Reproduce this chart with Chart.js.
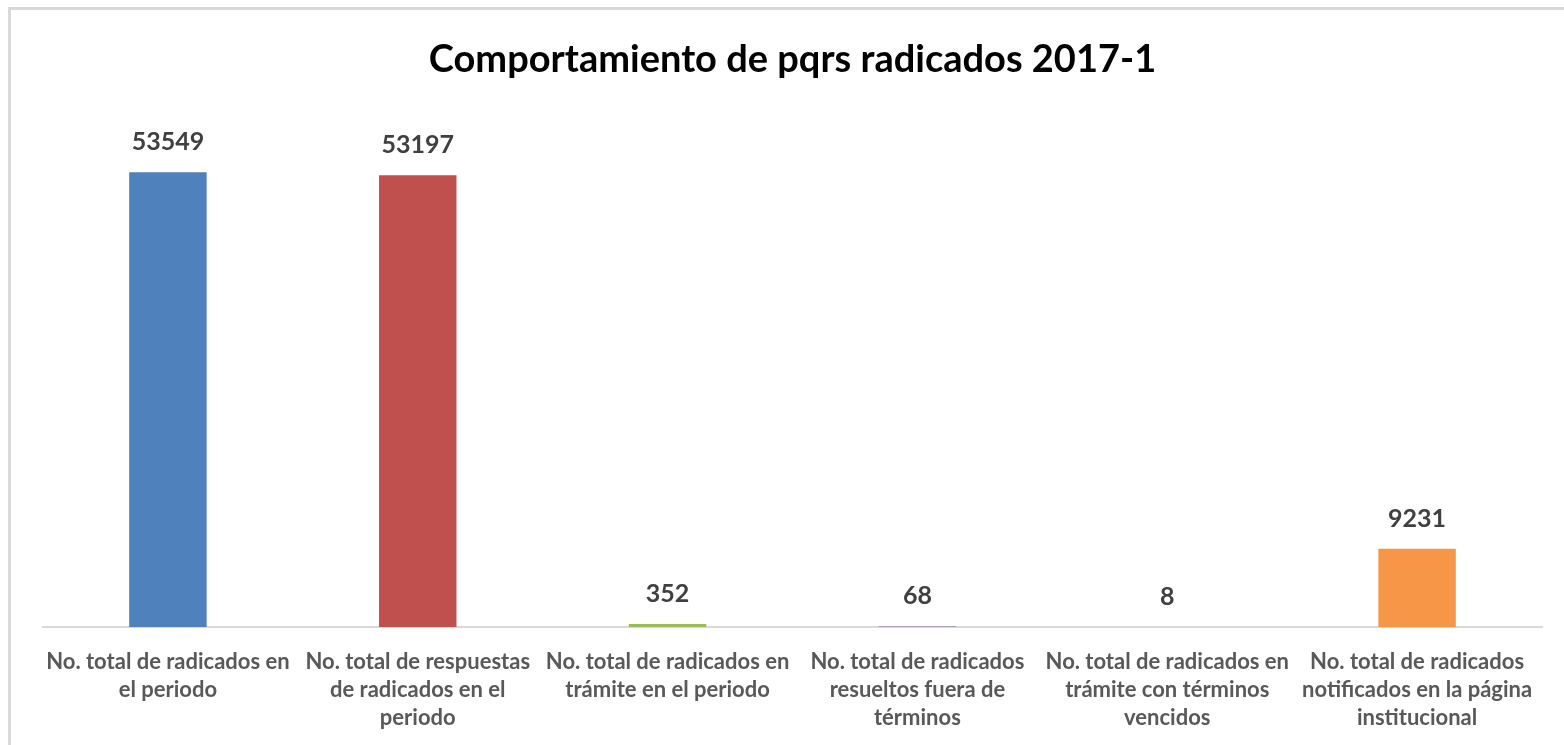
<!DOCTYPE html>
<html>
<head>
<meta charset="utf-8">
<script src="https://cdn.jsdelivr.net/npm/chart.js@4/dist/chart.umd.min.js"></script>
<style>
  html, body { margin: 0; padding: 0; background: #ffffff; }
  #wrap { position: relative; width: 1564px; height: 745px; overflow: hidden; }
  #frame { position: absolute; left: 8px; top: 7px; right: -10px; bottom: -10px;
           border-left: 3px solid #d9d9d9; border-top: 3px solid #d9d9d9; pointer-events: none; }
  canvas { position: absolute; left: 0; top: 0; }
</style>
</head>
<body>
<div id="wrap">
  <canvas id="c" width="1564" height="766"></canvas>
  <div id="frame"></div>
</div>
<script>
const chartTitle = "Comportamiento de pqrs radicados 2017-1";
const categories = [
  ["No. total de radicados en", "el periodo"],
  ["No. total de respuestas", "de radicados en el", "periodo"],
  ["No. total de radicados en", "trámite en el periodo"],
  ["No. total de radicados", "resueltos fuera de", "términos"],
  ["No. total de radicados en", "trámite con términos", "vencidos"],
  ["No. total de radicados", "notificados en la página", "institucional"]
];
const values = [53549, 53197, 352, 68, 8, 9231];
const barColors = ["#4F81BD", "#C0504D", "#9BBB59", "#8064A2", "#4BACC6", "#F79646"];
const yMax = 60000;

const valueLabels = {
  id: "valueLabels",
  afterDatasetsDraw(chart) {
    const ctx = chart.ctx;
    const meta = chart.getDatasetMeta(0);
    ctx.save();
    ctx.font = "bold 25px Lato, 'Open Sans', sans-serif";
    ctx.fillStyle = "#404040";
    ctx.textAlign = "center";
    ctx.textBaseline = "middle";
    meta.data.forEach((bar, i) => {
      ctx.fillText(String(chart.data.datasets[0].data[i]), bar.x, bar.y - 30);
    });
    ctx.restore();
  }
};

new Chart(document.getElementById("c"), {
  type: "bar",
  data: {
    labels: categories,
    datasets: [{
      data: values,
      backgroundColor: barColors,
      borderWidth: 0,
      categoryPercentage: 1.0,
      barPercentage: 0.31
    }]
  },
  options: {
    responsive: false,
    animation: false,
    devicePixelRatio: 1,
    layout: { padding: { left: 43, right: 22, top: 0, bottom: 13 } },
    plugins: {
      legend: { display: false },
      tooltip: { enabled: false },
      title: {
        display: true,
        text: chartTitle,
        color: "#000000",
        font: { family: "Lato, 'Open Sans', sans-serif", size: 38, weight: "bold", lineHeight: 1.2 },
        padding: { top: 37, bottom: 35 }
      }
    },
    scales: {
      x: {
        grid: { display: false, drawTicks: false },
        border: { display: true, color: "#d9d9d9", width: 2 },
        ticks: {
          color: "#595959",
          font: { family: "Lato, 'Open Sans', sans-serif", size: 22, weight: "bold", lineHeight: "28px" },
          padding: 21,
          autoSkip: false,
          maxRotation: 0,
          minRotation: 0
        }
      },
      y: {
        display: false,
        min: 0,
        max: yMax
      }
    }
  },
  plugins: [valueLabels]
});
</script>
</body>
</html>
